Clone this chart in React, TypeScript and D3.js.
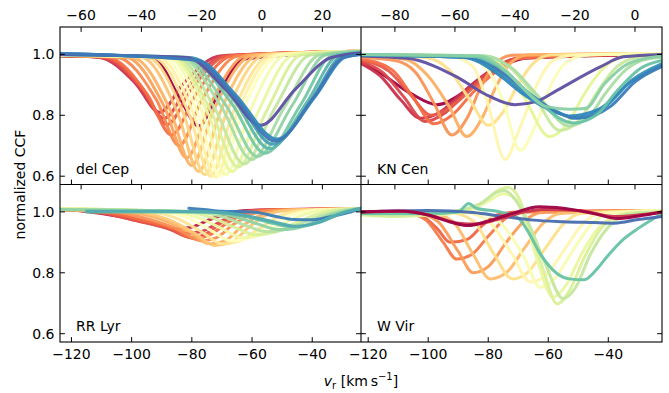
import * as d3 from "d3";

type Pt = [number, number];
type Curve = { phase: number; pts: Pt[] };

// del Cep, top axis units
const delCep: Curve[] = [
  { phase: 0.0, pts: [[-67, 0.995], [-36, 0.99], [-27.5, 0.86], [-21, 0.765], [-15, 0.86], [-6, 0.985], [32.8, 1.008]] },
  { phase: 0.08, pts: [[-67, 0.996], [-54, 0.99], [-42, 0.905], [-34, 0.81], [-26, 0.905], [-14, 0.995], [32.8, 1.01]] },
  { phase: 0.12, pts: [[-67, 0.996], [-53, 0.99], [-40.5, 0.895], [-32.5, 0.79], [-24.5, 0.895], [-12.5, 0.995], [32.8, 1.01]] },
  { phase: 0.16, pts: [[-67, 0.996], [-52, 0.99], [-39.5, 0.885], [-31.5, 0.77], [-23.5, 0.885], [-11.5, 0.995], [32.8, 1.01]] },
  { phase: 0.2, pts: [[-67, 0.996], [-51, 0.99], [-38, 0.868], [-30, 0.735], [-22, 0.868], [-10, 0.995], [32.8, 1.01]] },
  { phase: 0.24, pts: [[-67, 0.996], [-48, 0.99], [-35, 0.85], [-27.5, 0.7], [-20, 0.85], [-8, 0.995], [32.8, 1.01]] },
  { phase: 0.28, pts: [[-67, 0.997], [-45, 0.99], [-32.5, 0.83], [-25, 0.66], [-17.5, 0.83], [-5, 0.997], [32.8, 1.01]] },
  { phase: 0.31, pts: [[-67, 0.997], [-43, 0.99], [-30.5, 0.818], [-23.3, 0.635], [-16, 0.818], [-3, 0.997], [32.8, 1.01]] },
  { phase: 0.34, pts: [[-67, 0.997], [-40, 0.99], [-28, 0.808], [-21, 0.615], [-14, 0.808], [-1, 0.998], [32.8, 1.01]] },
  { phase: 0.38, pts: [[-67, 0.998], [-38, 0.99], [-26, 0.803], [-19, 0.605], [-12, 0.803], [1, 0.998], [32.8, 1.01]] },
  { phase: 0.42, pts: [[-67, 0.998], [-36, 0.99], [-24, 0.8], [-17, 0.6], [-10, 0.8], [3, 0.998], [32.8, 1.01]] },
  { phase: 0.46, pts: [[-67, 0.998], [-34.5, 0.99], [-22.5, 0.8], [-15.5, 0.597], [-8.5, 0.8], [4.5, 0.998], [32.8, 1.01]] },
  { phase: 0.5, pts: [[-67, 0.998], [-33, 0.99], [-21, 0.8], [-14, 0.6], [-7, 0.8], [6, 0.998], [32.8, 1.01]] },
  { phase: 0.54, pts: [[-67, 0.998], [-31, 0.99], [-19.5, 0.803], [-12, 0.605], [-4.5, 0.803], [8, 0.998], [32.8, 1.01]] },
  { phase: 0.58, pts: [[-67, 0.999], [-30, 0.99], [-18, 0.808], [-10, 0.615], [-1.5, 0.808], [10.5, 0.998], [32.8, 1.01]] },
  { phase: 0.62, pts: [[-67, 0.999], [-29, 0.99], [-17, 0.815], [-8, 0.63], [1.5, 0.815], [13, 0.998], [32.8, 1.01]] },
  { phase: 0.66, pts: [[-67, 0.999], [-28, 0.99], [-15.5, 0.82], [-6, 0.64], [4, 0.82], [16, 0.998], [32.8, 1.01]] },
  { phase: 0.7, pts: [[-67, 1.0], [-27, 0.99], [-13.5, 0.828], [-3.5, 0.655], [7.5, 0.828], [19, 0.998], [32.8, 1.01]] },
  { phase: 0.74, pts: [[-67, 1.0], [-26, 0.99], [-12, 0.833], [-1.5, 0.665], [10, 0.833], [21, 0.998], [32.8, 1.01]] },
  { phase: 0.78, pts: [[-67, 1.0], [-25, 0.99], [-10, 0.838], [1, 0.675], [13, 0.838], [23, 0.995], [32.8, 1.008]] },
  { phase: 0.82, pts: [[-67, 1.0], [-24, 0.99], [-9, 0.845], [2.5, 0.69], [15, 0.845], [25, 0.995], [32.8, 1.006]] },
  { phase: 0.86, pts: [[-67, 1.0], [-23, 0.988], [-8.5, 0.853], [3.5, 0.705], [16.5, 0.853], [26.5, 0.995], [32.8, 1.005]] },
  { phase: 1.0, pts: [[-67, 1.0], [-25, 0.99], [-12, 0.885], [-0.5, 0.767], [11, 0.885], [23, 0.99], [32.8, 1.005]] },
  { phase: 0.9, pts: [[-67, 1.003], [-21, 0.98], [-9, 0.87], [5, 0.722], [17.5, 0.86], [27.5, 0.99], [32.8, 1.0]] },
  { phase: 0.93, pts: [[-67, 1.003], [-22, 0.982], [-9.5, 0.865], [4.5, 0.715], [17, 0.857], [27, 0.99], [32.8, 1.0]] },
];

// KN Cen, top axis units
const knCen: Curve[] = [
  { phase: 0.0, pts: [[-91.3, 0.975], [-84.6, 0.937], [-74.6, 0.871], [-66, 0.835], [-58, 0.87], [-51.6, 0.921], [-44, 0.963], [-36, 0.988], [9, 1.0]] },
  { phase: 0.08, pts: [[-91.3, 0.97], [-85, 0.93], [-78, 0.85], [-71.5, 0.79], [-65, 0.81], [-58, 0.87], [-50, 0.935], [-42, 0.98], [-34, 0.995], [9, 1.002]] },
  { phase: 0.12, pts: [[-91.3, 0.975], [-84, 0.94], [-77, 0.86], [-70, 0.78], [-63, 0.81], [-56, 0.88], [-48, 0.945], [-40, 0.985], [9, 1.002]] },
  { phase: 0.16, pts: [[-91.3, 0.98], [-82, 0.945], [-75, 0.87], [-68, 0.8], [-61, 0.83], [-54, 0.89], [-46, 0.95], [-38, 0.99], [9, 1.002]] },
  { phase: 0.2, pts: [[-91.3, 0.985], [-81, 0.95], [-74, 0.86], [-67, 0.772], [-61, 0.8], [-54, 0.875], [-46, 0.945], [-38, 0.988], [9, 1.002]] },
  { phase: 0.26, pts: [[-91.3, 0.99], [-80, 0.98], [-73, 0.94], [-67, 0.84], [-61, 0.735], [-56, 0.79], [-51.5, 0.89], [-47, 0.965], [-41, 0.997], [9, 1.003]] },
  { phase: 0.3, pts: [[-91.3, 0.995], [-77, 0.985], [-69, 0.93], [-62, 0.83], [-56, 0.73], [-51, 0.79], [-46.5, 0.89], [-42, 0.965], [-36, 0.998], [9, 1.003]] },
  { phase: 0.4, pts: [[-91.3, 0.998], [-70, 0.99], [-62, 0.95], [-55, 0.85], [-48.8, 0.767], [-44, 0.81], [-39, 0.9], [-34, 0.97], [-28, 0.998], [9, 1.003]] },
  { phase: 0.47, pts: [[-91.3, 1.0], [-62, 0.995], [-54, 0.96], [-49.4, 0.85], [-43.3, 0.655], [-38.3, 0.76], [-32.7, 0.9], [-27.3, 0.98], [-20, 0.998], [9, 1.003]] },
  { phase: 0.52, pts: [[-91.3, 1.0], [-58, 0.995], [-50, 0.96], [-44, 0.85], [-38.3, 0.685], [-33, 0.77], [-28, 0.9], [-22, 0.98], [-15, 0.998], [9, 1.003]] },
  { phase: 0.6, pts: [[-91.3, 1.0], [-52, 0.995], [-44, 0.96], [-37, 0.86], [-28.5, 0.73], [-22, 0.78], [-17.5, 0.86], [-10, 0.96], [-3, 0.995], [9, 1.0]] },
  { phase: 0.65, pts: [[-91.3, 1.0], [-50, 0.995], [-42, 0.96], [-34, 0.87], [-25, 0.75], [-18, 0.79], [-13, 0.87], [-6, 0.96], [1, 0.99], [9, 0.995]] },
  { phase: 0.7, pts: [[-91.3, 1.0], [-50, 0.995], [-41, 0.955], [-32, 0.86], [-22, 0.765], [-15, 0.8], [-10, 0.87], [-3, 0.95], [4, 0.985], [9, 0.99]] },
  { phase: 1.0, pts: [[-91.3, 0.995], [-76, 0.987], [-59.4, 0.926], [-50, 0.87], [-40, 0.835], [-33, 0.845], [-26, 0.882], [-11.6, 0.959], [-3.9, 0.992], [9, 1.0]] },
  { phase: 0.88, pts: [[-91.3, 0.998], [-56, 0.99], [-43.3, 0.926], [-36.6, 0.871], [-23.3, 0.8], [-21, 0.79], [-10, 0.827], [-1.1, 0.915], [9, 0.97]] },
  { phase: 0.9, pts: [[-91.3, 0.998], [-57, 0.99], [-45, 0.93], [-38, 0.875], [-25, 0.805], [-22, 0.798], [-12, 0.82], [-2, 0.905], [9, 0.965]] },
  { phase: 0.92, pts: [[-91.3, 0.998], [-55, 0.99], [-42, 0.925], [-35, 0.87], [-22, 0.795], [-19, 0.79], [-8, 0.83], [0, 0.91], [9, 0.96]] },
  { phase: 0.8, pts: [[-91.3, 1.0], [-54, 0.993], [-44, 0.95], [-34, 0.86], [-20.5, 0.775], [-13, 0.8], [-6, 0.88], [2, 0.955], [9, 0.98]] },
  { phase: 0.75, pts: [[-91.3, 1.0], [-52, 0.995], [-43.3, 0.948], [-37.7, 0.893], [-30, 0.83], [-22, 0.82], [-16.6, 0.822], [-10, 0.905], [-2.2, 0.97], [9, 0.995]] },
];

// RR Lyr, bottom axis units
const rrLyr: Curve[] = [
  { phase: 0.05, pts: [[-123.8, 1.01], [-114, 1.0], [-102, 0.982], [-92, 0.96], [-85, 0.945], [-80, 0.95], [-74, 0.975], [-68, 0.995], [-62, 1.005], [-23.8, 1.01]] },
  { phase: 0.1, pts: [[-123.8, 1.008], [-112, 1.0], [-100, 0.975], [-90, 0.952], [-82, 0.93], [-77, 0.935], [-72, 0.96], [-66, 0.99], [-60, 1.005], [-23.8, 1.01]] },
  { phase: 0.15, pts: [[-123.8, 1.008], [-110, 0.998], [-98, 0.97], [-88, 0.945], [-80, 0.915], [-75, 0.93], [-70, 0.965], [-64, 0.995], [-58, 1.005], [-23.8, 1.01]] },
  { phase: 0.2, pts: [[-123.8, 1.008], [-108, 0.998], [-96, 0.972], [-86, 0.945], [-79, 0.912], [-74, 0.925], [-68, 0.965], [-62, 0.995], [-56, 1.005], [-23.8, 1.01]] },
  { phase: 0.25, pts: [[-123.8, 1.008], [-105, 1.0], [-94, 0.975], [-84, 0.94], [-77, 0.905], [-72, 0.915], [-66, 0.96], [-60, 0.993], [-54, 1.005], [-23.8, 1.01]] },
  { phase: 0.3, pts: [[-123.8, 1.008], [-102, 1.0], [-90, 0.975], [-81, 0.935], [-74, 0.895], [-69, 0.905], [-63, 0.955], [-57, 0.99], [-50, 1.005], [-23.8, 1.01]] },
  { phase: 0.35, pts: [[-123.8, 1.008], [-98, 1.0], [-88, 0.975], [-79, 0.93], [-72.5, 0.89], [-67, 0.9], [-61, 0.95], [-55, 0.99], [-48, 1.005], [-23.8, 1.01]] },
  { phase: 0.42, pts: [[-123.8, 1.01], [-94, 1.0], [-84, 0.975], [-76, 0.93], [-70, 0.895], [-64, 0.905], [-57, 0.95], [-50, 0.99], [-43, 1.005], [-23.8, 1.01]] },
  { phase: 0.5, pts: [[-123.8, 1.01], [-90, 1.0], [-80, 0.975], [-73, 0.935], [-67, 0.905], [-61, 0.915], [-54, 0.955], [-47, 0.99], [-40, 1.005], [-23.8, 1.01]] },
  { phase: 0.56, pts: [[-123.8, 1.01], [-86, 1.0], [-77, 0.978], [-70, 0.945], [-63, 0.915], [-57, 0.925], [-50, 0.96], [-43, 0.99], [-36, 1.005], [-23.8, 1.01]] },
  { phase: 0.62, pts: [[-123.8, 1.01], [-82, 1.0], [-73, 0.98], [-66, 0.95], [-59, 0.925], [-53, 0.932], [-46, 0.962], [-39, 0.99], [-33, 1.005], [-23.8, 1.01]] },
  { phase: 0.68, pts: [[-123.8, 1.008], [-78, 1.0], [-69, 0.982], [-62, 0.955], [-55, 0.935], [-50, 0.94], [-43, 0.965], [-36, 0.99], [-30, 1.005], [-23.8, 1.012]] },
  { phase: 0.74, pts: [[-123.8, 1.008], [-74, 1.0], [-66, 0.985], [-58, 0.96], [-51, 0.942], [-46, 0.945], [-40, 0.965], [-34, 0.99], [-28, 1.005], [-23.8, 1.012]] },
  { phase: 0.92, pts: [[-81, 1.012], [-76, 1.008], [-70, 1.002], [-60, 1.0], [-52, 0.985], [-46, 0.975], [-40, 0.974], [-34, 0.984], [-28, 0.998], [-23.8, 1.01]] },
  { phase: 0.8, pts: [[-115, 1.0], [-90, 1.0], [-75, 1.0], [-64, 0.989], [-55, 0.967], [-46.3, 0.951], [-37.4, 0.967], [-30.8, 0.995], [-23.8, 1.011]] },
  { phase: 0.84, pts: [[-115, 1.002], [-90, 1.002], [-74, 1.0], [-63, 0.99], [-54, 0.97], [-45.5, 0.953], [-37, 0.968], [-30, 0.996], [-23.8, 1.012]] },
];

// W Vir, bottom axis units
const wVir: Curve[] = [
  { phase: 0.18, pts: [[-122.4, 1.0], [-108, 0.998], [-102, 0.985], [-97, 0.945], [-92.7, 0.9], [-87, 0.91], [-82, 0.955], [-77, 0.99], [-70, 1.0], [-22.1, 1.005]] },
  { phase: 0.22, pts: [[-122.4, 1.0], [-108, 0.998], [-101, 0.975], [-95, 0.9], [-90.5, 0.845], [-85.5, 0.86], [-80, 0.92], [-74, 0.98], [-68, 1.0], [-22.1, 1.005]] },
  { phase: 0.27, pts: [[-122.4, 1.0], [-105, 0.998], [-97, 0.97], [-90, 0.87], [-85, 0.8], [-80, 0.82], [-74, 0.9], [-68, 0.97], [-62, 0.998], [-22.1, 1.005]] },
  { phase: 0.33, pts: [[-122.4, 1.0], [-100, 0.998], [-92, 0.97], [-85, 0.86], [-79.4, 0.78], [-74, 0.8], [-68, 0.88], [-62, 0.96], [-56, 0.995], [-22.1, 1.005]] },
  { phase: 0.4, pts: [[-122.4, 1.0], [-93, 0.998], [-85, 0.97], [-78, 0.86], [-72, 0.78], [-67, 0.8], [-61, 0.88], [-55, 0.96], [-49, 0.995], [-22.1, 1.005]] },
  { phase: 0.47, pts: [[-122.4, 1.0], [-88, 0.998], [-80, 0.97], [-72, 0.86], [-66, 0.77], [-61, 0.79], [-55, 0.87], [-49, 0.955], [-43, 0.995], [-22.1, 1.005]] },
  { phase: 0.53, pts: [[-122.4, 1.0], [-84, 0.998], [-76, 0.965], [-68, 0.85], [-62.7, 0.752], [-58, 0.78], [-52, 0.87], [-46, 0.955], [-40, 0.995], [-22.1, 1.005]] },
  { phase: 0.58, pts: [[-122.4, 0.995], [-100, 0.99], [-88, 1.0], [-80, 1.035], [-75, 1.06], [-71, 1.045], [-67, 0.95], [-63, 0.82], [-58.5, 0.72], [-54, 0.76], [-49, 0.86], [-43, 0.95], [-36, 0.99], [-22.1, 1.0]] },
  { phase: 0.62, pts: [[-122.4, 0.99], [-110, 0.985], [-95, 0.995], [-82, 1.03], [-76, 1.075], [-73.5, 1.08], [-70, 1.05], [-66, 0.94], [-62, 0.82], [-57, 0.698], [-53, 0.74], [-48, 0.85], [-42, 0.95], [-34, 0.995], [-22.1, 1.0]] },
  { phase: 0.66, pts: [[-122.4, 0.993], [-110, 0.99], [-95, 0.998], [-83, 1.025], [-77, 1.065], [-74.5, 1.07], [-71, 1.04], [-66, 0.95], [-61, 0.83], [-55, 0.715], [-51, 0.75], [-46, 0.86], [-40, 0.95], [-32, 0.995], [-22.1, 1.0]] },
  { phase: 0.8, pts: [[-122.4, 0.995], [-100, 0.995], [-90, 1.0], [-86.5, 1.028], [-84, 1.012], [-76, 1.0], [-70, 0.98], [-67, 0.94], [-62.7, 0.863], [-57, 0.797], [-53, 0.78], [-48, 0.777], [-44, 0.81], [-40.5, 0.852], [-35, 0.91], [-29.4, 0.95], [-22.1, 0.995]] },
  { phase: 0.95, pts: [[-122.4, 1.0], [-100, 1.005], [-85, 0.998], [-75, 0.985], [-65, 0.973], [-55, 0.968], [-45, 0.965], [-38, 0.963], [-30, 0.975], [-22.1, 0.985]] },
  { phase: 0.08, pts: [[-122.4, 1.0], [-108, 1.002], [-98, 0.985], [-90, 0.963], [-84, 0.96], [-77, 0.975], [-70, 0.995], [-62, 1.008], [-50, 1.005], [-38, 0.985], [-30, 0.99], [-22.1, 1.0]] },
  { phase: 0.0, pts: [[-122.4, 1.0], [-110, 1.003], [-100, 0.99], [-92, 0.965], [-87, 0.955], [-80, 0.97], [-72, 0.995], [-63, 1.017], [-55, 1.012], [-45, 0.995], [-37, 0.978], [-29, 0.988], [-22.1, 1.0]] },
];

const topTicksLeft = [-60, -40, -20, 0, 20];
const topTicksRight = [-80, -60, -40, -20, 0];
const bottomTicks = [-120, -100, -80, -60, -40];
const yTicks = [0.6, 0.8, 1.0];

const W = 669;
const H = 393;
const X0 = 60, XM = 361, X1 = 662;
const Y0 = 27, YM = 184.5, Y1 = 342;
const TICK = 4.9;
const FONT = "DejaVu Sans, sans-serif";

// matplotlib's Spectral is a linear blend of the 11 brewer colours
const spectral = d3
  .scaleLinear<string>()
  .domain(d3.range(11).map((i) => i / 10))
  .range(d3.schemeSpectral[11])
  .interpolate(d3.interpolateRgb);

const yDomain = [0.5727, 1.09];
const yTopRow = d3.scaleLinear().domain(yDomain).range([YM, Y0]);
const yBotRow = d3.scaleLinear().domain(yDomain).range([Y1, YM]);

const cols = [
  {
    x0: X0, x1: XM,
    top: d3.scaleLinear().domain([-67, 32.8]).range([X0, XM]),
    bot: d3.scaleLinear().domain([-123.8, -23.8]).range([X0, XM]),
    topTicks: topTicksLeft,
  },
  {
    x0: XM, x1: X1,
    top: d3.scaleLinear().domain([-91.3, 9]).range([XM, X1]),
    bot: d3.scaleLinear().domain([-122.4, -22.1]).range([XM, X1]),
    topTicks: topTicksRight,
  },
];

const panels = [
  { id: "p0", label: "del Cep", col: 0, row: 0, curves: delCep },
  { id: "p1", label: "KN Cen", col: 1, row: 0, curves: knCen },
  { id: "p2", label: "RR Lyr", col: 0, row: 1, curves: rrLyr },
  { id: "p3", label: "W Vir", col: 1, row: 1, curves: wVir },
];

const fmtX = d3.format("d");
const fmtY = d3.format(".1f");

export default function App() {
  return (
    <svg width={W} height={H} style={{ position: "fixed", left: 0, top: 0, background: "#fff" }} fontFamily={FONT}>
      <defs>
        {panels.map((p) => {
          const c = cols[p.col];
          const ya = p.row === 0 ? Y0 : YM;
          const yb = p.row === 0 ? YM : Y1;
          return (
            <clipPath id={p.id} key={p.id}>
              <rect x={c.x0} y={ya} width={c.x1 - c.x0} height={yb - ya} />
            </clipPath>
          );
        })}
      </defs>

      {panels.map((p) => {
        const c = cols[p.col];
        const xs = p.row === 0 ? c.top : c.bot;
        const ys = p.row === 0 ? yTopRow : yBotRow;
        const line = d3
          .line<Pt>()
          .x((d) => xs(d[0]))
          .y((d) => ys(d[1]))
          .curve(d3.curveMonotoneX);
        return (
          <g key={p.id} clipPath={`url(#${p.id})`}>
            {p.curves.map((cv, i) => (
              <path
                key={i}
                d={line(cv.pts) || ""}
                fill="none"
                stroke={spectral(cv.phase)}
                strokeWidth={3}
                strokeOpacity={0.95}
                strokeLinejoin="round"
                strokeLinecap="round"
              />
            ))}
          </g>
        );
      })}

      {/* ticks */}
      {panels.map((p) => {
        const c = cols[p.col];
        const ys = p.row === 0 ? yTopRow : yBotRow;
        const ya = p.row === 0 ? Y0 : YM;
        const yb = p.row === 0 ? YM : Y1;
        return (
          <g key={"t" + p.id} stroke="#000" strokeWidth={1}>
            {c.topTicks.map((t) => (
              <line key={"a" + t} x1={c.top(t)} x2={c.top(t)} y1={ya} y2={ya + TICK} />
            ))}
            {bottomTicks.map((t) => (
              <line key={"b" + t} x1={c.bot(t)} x2={c.bot(t)} y1={yb} y2={yb - TICK} />
            ))}
            {yTicks.map((t) => (
              <g key={"y" + t}>
                <line x1={c.x0} x2={c.x0 + TICK} y1={ys(t)} y2={ys(t)} />
                <line x1={c.x1} x2={c.x1 - TICK} y1={ys(t)} y2={ys(t)} />
              </g>
            ))}
          </g>
        );
      })}

      {/* frames */}
      <g fill="none" stroke="#000" strokeWidth={1.1}>
        <rect x={X0} y={Y0} width={X1 - X0} height={Y1 - Y0} />
        <line x1={XM} x2={XM} y1={Y0} y2={Y1} />
        <line x1={X0} x2={X1} y1={YM} y2={YM} />
      </g>

      {/* tick labels */}
      <g fontSize={14} fill="#000" textAnchor="middle">
        {cols.map((c, ci) => (
          <g key={"lab" + ci}>
            {c.topTicks.map((t) => (
              <text key={"tt" + t} x={c.top(t)} y={20}>{fmtX(t)}</text>
            ))}
            {bottomTicks.map((t) => (
              <text key={"bt" + t} x={c.bot(t)} y={359}>{fmtX(t)}</text>
            ))}
          </g>
        ))}
        {[yTopRow, yBotRow].map((ys, ri) =>
          yTicks.map((t) => (
            <text key={"yl" + ri + t} x={54.5} y={ys(t) + 5} textAnchor="end">{fmtY(t)}</text>
          ))
        )}
      </g>

      {/* panel labels */}
      <g fontSize={14} fill="#000">
        {panels.map((p) => (
          <text key={"pl" + p.id} x={cols[p.col].x0 + 16} y={p.row === 0 ? 174 : 331}>
            {p.label}
          </text>
        ))}
      </g>

      {/* axis labels */}
      <text x={361} y={386} fontSize={14} textAnchor="middle">
        <tspan fontStyle="italic">v</tspan>
        <tspan fontSize={10} dy={3}>r</tspan>
        <tspan dy={-3}>{" [km\u2009s"}</tspan>
        <tspan fontSize={10} dy={-6}>−1</tspan>
        <tspan dy={6}>]</tspan>
      </text>
      <text transform={`translate(25,${YM}) rotate(-90)`} fontSize={14} textAnchor="middle">
        normalized CCF
      </text>
    </svg>
  );
}
